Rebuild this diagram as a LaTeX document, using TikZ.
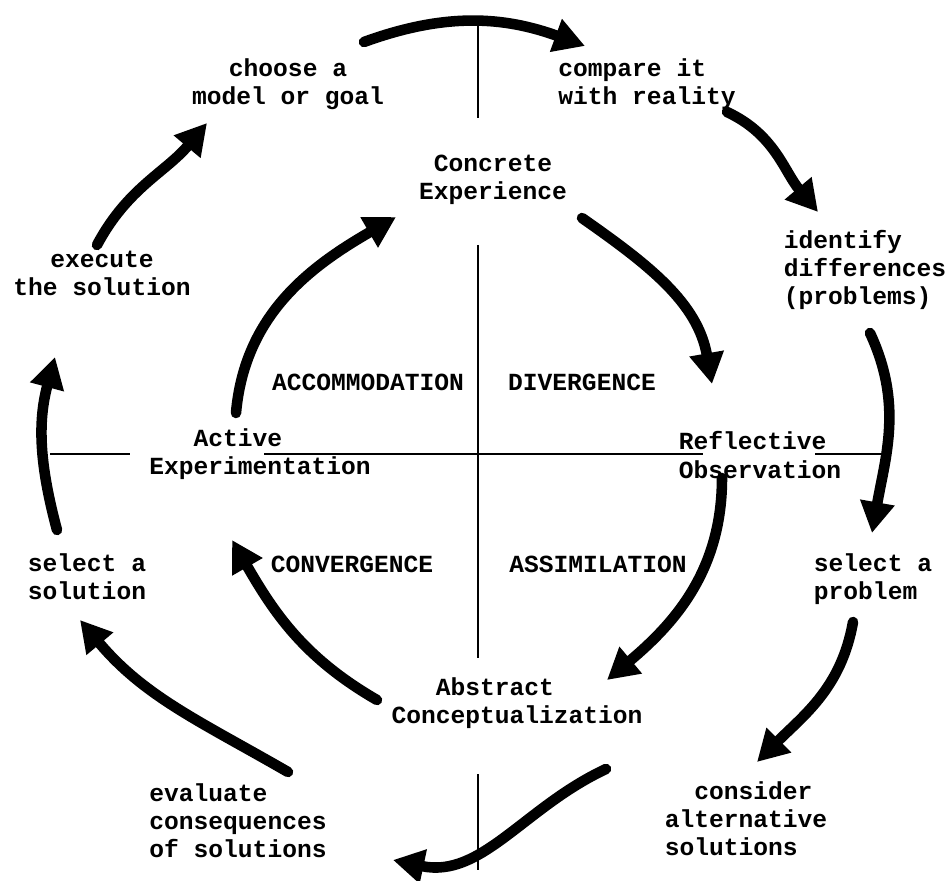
\documentclass[tikz,border=0pt]{standalone}
\usepackage{fontspec}
\newfontfamily\typefont{Liberation Mono}
\usetikzlibrary{arrows.meta,calc}

\begin{document}
\begin{tikzpicture}[
  x=0.02cm, y=-0.02cm,
  txt/.style={inner sep=0pt, align=center, font=\typefont\bfseries\fontsize{14pt}{16pt}\selectfont},
  txtl/.style={txt, align=left},
  axis/.style={line width=1.5pt},
  flow/.style={line width=6pt, line cap=round, -{Triangle[length=0.62cm,width=0.66cm]}}
]
  \useasboundingbox (0,0) rectangle (950,881);

  % the two axes
  \draw[axis] (478,22) -- (478,118);
  \draw[axis] (478,245) -- (478,658);
  \draw[axis] (478,774) -- (478,870);
  \draw[axis] (50,454) -- (130,454);
  \draw[axis] (264,454) -- (703,454);
  \draw[axis] (815,454) -- (886,454);

  % inner cycle
  \node[txt] (concrete) at (493,180) {Concrete\\Experience};
  \node[txtl] (reflect) at (760,455) {Reflective\\Observation};
  \node[txtl] (abstract) at (517,703) {\hphantom{Con}Abstract\\Conceptualization};
  \node[txtl] (active) at (260,454) {\hphantom{Act}Active\\Experimentation};

  \node[txt] (accom) at (368,382) {ACCOMMODATION};
  \node[txt] (diverg) at (582,382) {DIVERGENCE};
  \node[txt] (conv) at (352,564) {CONVERGENCE};
  \node[txt] (assim) at (598,564) {ASSIMILATION};

  % outer cycle
  \node[txt] (choose) at (288,84) {choose a\\model or goal};
  \node[txtl] (compare) at (647,84) {compare it\\with reality};
  \node[txtl] (identify) at (865,270) {identify\\differences\\(problems)};
  \node[txtl] (selprob) at (873,579) {select a\\problem};
  \node[txtl] (consider) at (746,819) {\hphantom{al}consider\\alternative\\solutions};
  \node[txtl] (evaluate) at (238,821) {evaluate\\consequences\\of solutions};
  \node[txtl] (selsol) at (87,577) {select a\\solution};
  \node[txt] (execute) at (102,273) {execute\\the solution};

  \draw[flow] ($(active)+(-24,-41)$) to[out=85,in=-150] ($(concrete)+(-97,37)$);
  \draw[flow] ($(concrete)+(89,38)$) to[out=-35,in=100] ($(reflect)+(-48,-71)$);
  \draw[flow] ($(reflect)+(-38,23)$) to[out=-90,in=40] ($(abstract)+(90,-23)$);
  \draw[flow] ($(abstract)+(-140,-3)$) to[out=150,in=-60] ($(active)+(-28,86)$);

  \draw[flow] ($(choose)+(76,-42)$) to[out=20,in=160] ($(compare)+(-62,-38)$);
  \draw[flow] ($(compare)+(80,28)$) to[out=-25,in=130] ($(identify)+(-47,-58)$);
  \draw[flow] ($(identify)+(5,63)$) to[out=-65,in=80] ($(selprob)+(-1,-46)$);
  \draw[flow] ($(selprob)+(-20,43)$) to[out=-100,in=45] ($(consider)+(11,-57)$);
  \draw[flow] ($(consider)+(-140,-50)$) to[out=-155,in=-12] ($(evaluate)+(155,39)$);
  \draw[flow] ($(evaluate)+(50,-49)$) to[out=150,in=-50] ($(selsol)+(-7,43)$);
  \draw[flow] ($(selsol)+(-30,-47)$) to[out=105,in=-105] ($(execute)+(-47,84)$);
  \draw[flow] ($(execute)+(-5,-28)$) to[out=62,in=-130] ($(choose)+(-81,39)$);
\end{tikzpicture}
\end{document}
